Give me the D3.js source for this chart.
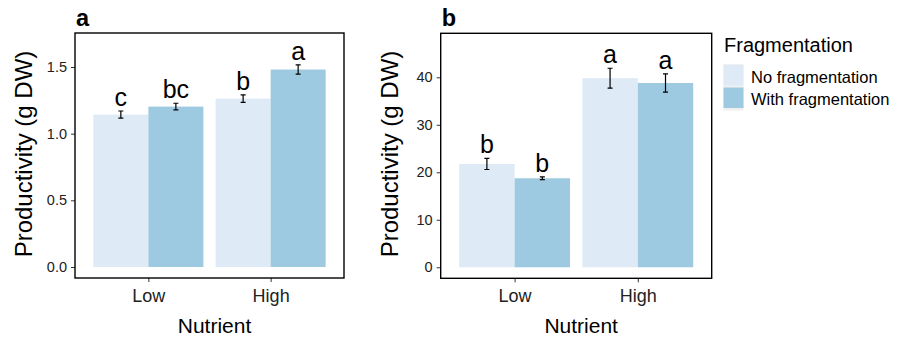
<!DOCTYPE html>
<meta charset="utf-8">
<style>
body { margin: 0; background: #fff; }
svg { font-family: "Liberation Sans", Arial, sans-serif; }
</style>
<svg width="904" height="339"></svg>
<script src="https://d3js.org/d3.v7.min.js"></script>
<script>

var nutrients = ["Low", "High"];
var fragLevels = ["No fragmentation", "With fragmentation"];
var colors = ["#deebf7", "#9ecae1"];

// panel a
var aMeanNo = [1.143, 1.263], aMeanWith = [1.203, 1.481];
var aSeNo = [0.027, 0.028], aSeWith = [0.025, 0.035];
var aLetNo = ["c", "b"], aLetWith = ["bc", "a"];
var aTicks = [0, 0.5, 1.0, 1.5];

// panel b
var bMeanNo = [21.75, 39.8], bMeanWith = [18.74, 38.8];
var bSeNo = [1.16, 2.1], bSeWith = [0.3, 1.93];
var bLetNo = ["b", "a"], bLetWith = ["b", "a"];
var bTicks = [0, 10, 20, 30, 40];

var svg = d3.select("svg");

function rows(meanNo, meanWith, seNo, seWith, letNo, letWith) {
  var out = [];
  nutrients.forEach(function(n, i) {
    out.push({nut: n, frag: fragLevels[0], mean: meanNo[i], se: seNo[i], lab: letNo[i]});
    out.push({nut: n, frag: fragLevels[1], mean: meanWith[i], se: seWith[i], lab: letWith[i]});
  });
  return out;
}

function panel(opt) {
  var g = svg.append("g");
  var x = d3.scalePoint().domain(nutrients).range([opt.x0, opt.x1]).padding(0.6);
  var step = x.step();
  var xi = d3.scaleBand().domain(fragLevels).range([-0.45 * step, 0.45 * step]);
  var y = d3.scaleLinear().domain(opt.domain).range([opt.y1, opt.y0]);
  var color = d3.scaleOrdinal(fragLevels, colors);

  var bar = g.selectAll("g.bar")
    .data(opt.data)
    .enter().append("g")
      .attr("class", "bar")
      .attr("transform", function(d) { return "translate(" + (x(d.nut) + xi(d.frag)) + ",0)"; });

  bar.append("rect")
      .attr("x", 0)
      .attr("width", xi.bandwidth())
      .attr("y", function(d) { return y(d.mean); })
      .attr("height", function(d) { return y(0) - y(d.mean); })
      .attr("fill", function(d) { return color(d.frag); });

  var cx = xi.bandwidth() / 2, cw = 2.5;
  bar.append("path")
      .attr("d", function(d) {
        var t = y(d.mean + d.se), b = y(d.mean - d.se);
        return "M" + (cx - cw) + "," + t + "H" + (cx + cw) +
               "M" + cx + "," + t + "V" + b +
               "M" + (cx - cw) + "," + b + "H" + (cx + cw);
      })
      .attr("stroke", "#000")
      .attr("stroke-width", 1.2)
      .attr("fill", "none");

  bar.append("text")
      .attr("x", cx)
      .attr("y", function(d) { return y(d.mean + d.se) - 5; })
      .attr("text-anchor", "middle")
      .attr("font-size", 25)
      .text(function(d) { return d.lab; });

  // axes
  var ya = g.append("g")
      .attr("transform", "translate(" + opt.x0 + ",0)")
      .call(d3.axisLeft(y).tickValues(opt.ticks).tickFormat(opt.fmt).tickSize(4).tickPadding(4));
  ya.select(".domain").remove();
  ya.selectAll("text").attr("font-size", 14.5).attr("fill", "#222").attr("font-family", null);
  ya.selectAll("line").attr("stroke", "#333");

  var xa = g.append("g")
      .attr("transform", "translate(0," + opt.y1 + ")")
      .call(d3.axisBottom(x).tickSize(4).tickPadding(7));
  xa.select(".domain").remove();
  xa.selectAll("text").attr("font-size", 18).attr("fill", "#222").attr("font-family", null);
  xa.selectAll("line").attr("stroke", "#333");

  g.append("rect")
      .attr("x", opt.x0).attr("y", opt.y0)
      .attr("width", opt.x1 - opt.x0).attr("height", opt.y1 - opt.y0)
      .attr("fill", "none").attr("stroke", "#000").attr("stroke-width", 1.4);

  g.append("text")
      .attr("x", (opt.x0 + opt.x1) / 2 + 5).attr("y", 333)
      .attr("text-anchor", "middle").attr("font-size", 21)
      .text("Nutrient");

  g.append("text")
      .attr("transform", "translate(" + (opt.x0 - 43) + "," + 154 + ") rotate(-90)")
      .attr("text-anchor", "middle").attr("font-size", 24)
      .text("Productivity (g DW)");

  g.append("text")
      .attr("x", opt.x0 + 1).attr("y", 25.5)
      .attr("font-size", 23.5).attr("font-weight", "bold")
      .text(opt.tag);
}

panel({
  tag: "a", x0: 75, x1: 344, y0: 33, y1: 278,
  domain: [-0.0826, 1.755], ticks: aTicks, fmt: d3.format(".1f"),
  data: rows(aMeanNo, aMeanWith, aSeNo, aSeWith, aLetNo, aLetWith)
});

panel({
  tag: "b", x0: 440.7, x1: 711.7, y0: 33.3, y1: 278.3,
  domain: [-2.32, 49.26], ticks: bTicks, fmt: d3.format("d"),
  data: rows(bMeanNo, bMeanWith, bSeNo, bSeWith, bLetNo, bLetWith)
});

// legend
var leg = svg.append("g").attr("transform", "translate(723.5,0)");
leg.append("text").attr("x", 0.5).attr("y", 51.7).attr("font-size", 20).text("Fragmentation");
leg.append("rect").attr("x", 0).attr("y", 64).attr("width", 20).attr("height", 46.5).attr("fill", "#f0f0f0");
var item = leg.selectAll("g.item")
  .data(fragLevels)
  .enter().append("g")
    .attr("class", "item")
    .attr("transform", function(d, i) { return "translate(0," + (65 + i * 22.5) + ")"; });
item.append("rect")
    .attr("width", 20).attr("height", 20.5)
    .attr("fill", function(d, i) { return colors[i]; });
item.append("text")
    .attr("x", 27.5).attr("y", 17.5)
    .attr("font-size", 16.5)
    .text(function(d) { return d; });

</script>
